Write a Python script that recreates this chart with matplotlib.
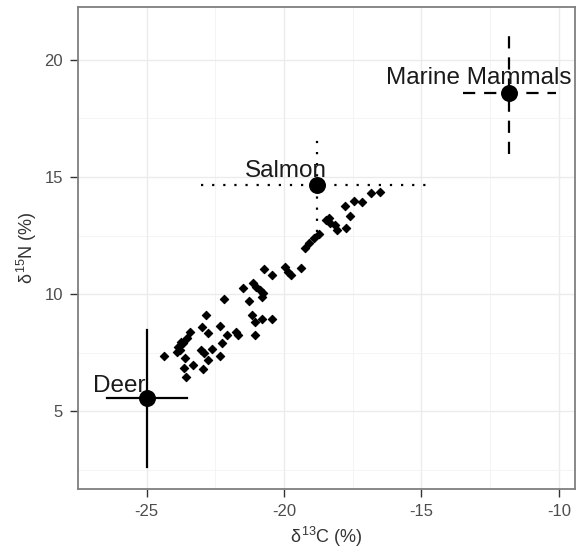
import numpy as np
import matplotlib.pyplot as plt

plt.rcParams['font.family'] = ['Liberation Sans', 'DejaVu Sans']
plt.rcParams['mathtext.fontset'] = 'custom'
plt.rcParams['mathtext.rm'] = 'Liberation Sans'
plt.rcParams['mathtext.it'] = 'Liberation Sans'
plt.rcParams['axes.unicode_minus'] = False

# individual samples (d13C, d15N)
d13c = [-24.37, -23.89, -23.86, -23.75, -23.68, -23.53, -23.41, -23.78, -23.59, -23.65,
        -23.57, -23.30, -22.95, -23.03, -22.91, -22.77, -22.61, -22.34, -22.25, -22.07,
        -21.74, -21.69, -23.00, -22.77, -22.34, -22.85, -22.19, -21.50, -21.26, -21.14,
        -21.02, -20.88, -20.76, -20.82, -21.18, -21.06, -20.82, -20.44, -21.06, -20.73,
        -20.44, -19.98, -19.86, -19.74, -19.38, -19.24, -19.09, -18.91, -18.73, -18.49,
        -18.37, -18.31, -18.13, -18.07, -17.73, -17.59, -17.77, -17.47, -17.18, -16.82,
        -16.52]
d15n = [7.35, 7.53, 7.75, 7.96, 7.89, 8.11, 8.39, 7.62, 7.28, 6.82,
        6.44, 6.97, 6.78, 7.61, 7.47, 7.18, 7.64, 7.35, 7.92, 8.25,
        8.39, 8.25, 8.60, 8.32, 8.65, 9.10, 9.79, 10.27, 9.70, 10.48,
        10.31, 10.17, 10.03, 9.88, 9.10, 8.82, 8.93, 8.93, 8.25, 11.06,
        10.81, 11.14, 10.95, 10.81, 11.10, 11.95, 12.17, 12.38, 12.55, 13.16,
        13.24, 13.02, 12.95, 12.74, 12.81, 13.33, 13.76, 13.99, 13.94, 14.30,
        14.37]

# food sources: mean +/- sd
sources = ['Deer', 'Salmon', 'Marine Mammals']
src_c = [-25.0, -18.8, -11.8]
src_n = [5.55, 14.65, 18.6]
src_c_sd = [1.45, 4.23, 1.7]
src_n_sd = [2.93, 2.0, 2.6]
label_c = [-26.0, -19.95, -12.9]
label_n = [5.8, 15.0, 18.97]
styles = ['-', (0, (1, 4)), (0, (5.5, 4))]

fig = plt.figure(figsize=(5.77, 5.57), dpi=100)
ax = fig.add_axes([0.1352, 0.122, 0.8613, 0.8654])

ax.scatter(d13c, d15n, marker='D', s=18, color='black', linewidths=0.8, zorder=3)

for i in range(len(sources)):
    ax.plot([src_c[i] - src_c_sd[i], src_c[i] + src_c_sd[i]], [src_n[i], src_n[i]],
            color='black', lw=1.6, linestyle=styles[i], zorder=4)
    ax.plot([src_c[i], src_c[i]], [src_n[i] - src_n_sd[i], src_n[i] + src_n_sd[i]],
            color='black', lw=1.6, linestyle=styles[i], zorder=4)
ax.scatter(src_c, src_n, s=125, color='black', zorder=5)
for i in range(len(sources)):
    ax.text(label_c[i], label_n[i], sources[i], ha='center', va='baseline',
            fontsize=17.5, color='#1a1a1a', zorder=6)

ax.set_xlim(-27.22, -9.41)
ax.set_ylim(1.67, 22.26)
ax.set_xticks([-25, -20, -15, -10])
ax.set_yticks([5, 10, 15, 20])
ax.set_xticks([-27.5, -22.5, -17.5, -12.5], minor=True)
ax.set_yticks([2.5, 7.5, 12.5, 17.5], minor=True)
ax.grid(which='major', color='#EBEBEB', lw=1.0)
ax.grid(which='minor', color='#F3F3F3', lw=0.6)
ax.set_axisbelow(True)
ax.tick_params(which='major', length=5.8, width=1, color='#333333', labelsize=12,
               labelcolor='#4D4D4D', pad=5)
ax.tick_params(which='minor', length=0)
for s in ax.spines.values():
    s.set_color('#7f7f7f')
    s.set_linewidth(1.3)

ax.set_xlabel(r'$\delta^{13}$C (%)', fontsize=13, color='#333333', labelpad=4)
ax.set_ylabel(r'$\delta^{15}$N (%)', fontsize=13, color='#333333', labelpad=4)

fig.savefig('out.png', dpi=100)
